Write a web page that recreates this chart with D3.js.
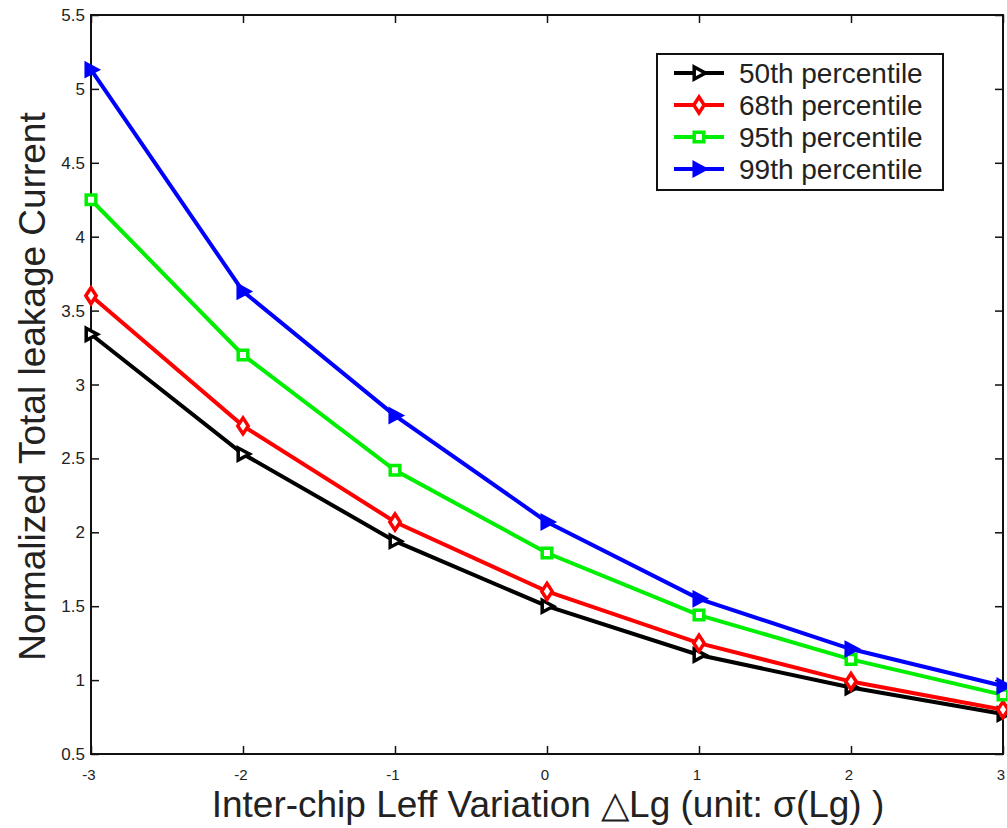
<!DOCTYPE html>
<html>
<head>
<meta charset="utf-8">
<script src="https://cdn.jsdelivr.net/npm/d3@7"></script>
<style>
  body { margin: 0; background: #fff; }
  text { font-family: "Liberation Sans", Arial, sans-serif; fill: #222; }
</style>
</head>
<body>
<svg id="chart" width="1007" height="828"></svg>
<script>
// data
var xVals = [-3, -2, -1, 0, 1, 2, 3];
var p50 = [3.34, 2.53, 1.94, 1.50, 1.17, 0.95, 0.77];
var p68 = [3.60, 2.72, 2.07, 1.60, 1.25, 0.99, 0.80];
var p95 = [4.25, 3.20, 2.42, 1.86, 1.44, 1.14, 0.90];
var p99 = [5.13, 3.63, 2.79, 2.07, 1.55, 1.21, 0.96];
var yTicks = [0.5, 1, 1.5, 2, 2.5, 3, 3.5, 4, 4.5, 5, 5.5];
var xTicks = [-3, -2, -1, 0, 1, 2, 3];

var series = [
  { name: "50th percentile", values: p50, color: "#000000", marker: "tri" },
  { name: "68th percentile", values: p68, color: "#ff0000", marker: "diamond" },
  { name: "95th percentile", values: p95, color: "#00ee00", marker: "square" },
  { name: "99th percentile", values: p99, color: "#0000ff", marker: "tri" }
];

var svg = d3.select("#chart"),
  margin = { top: 15, left: 91, bottom: 74, right: 4 },
  width = +svg.attr("width"),
  height = +svg.attr("height");

var x = d3.scaleLinear().domain([-3, 3]).range([margin.left, width - margin.right]);
var y = d3.scaleLinear().domain([0.5, 5.5]).range([height - margin.bottom, margin.top]);

// ticks inside
svg.append("g")
  .attr("transform", `translate(${margin.left},0)`)
  .call(d3.axisRight(y).tickValues(yTicks).tickSize(8).tickFormat(""))
  .call((g) => g.select(".domain").remove())
  .selectAll("line").attr("stroke", "#111").attr("stroke-width", 1.5);

svg.append("g")
  .attr("transform", `translate(${width - margin.right},0)`)
  .call(d3.axisLeft(y).tickValues(yTicks).tickSize(8).tickFormat(""))
  .call((g) => g.select(".domain").remove())
  .selectAll("line").attr("stroke", "#111").attr("stroke-width", 1.5);

svg.append("g")
  .attr("transform", `translate(0,${height - margin.bottom})`)
  .call(d3.axisTop(x).tickValues(xTicks).tickSize(8).tickFormat(""))
  .call((g) => g.select(".domain").remove())
  .selectAll("line").attr("stroke", "#111").attr("stroke-width", 1.5);

svg.append("g")
  .attr("transform", `translate(0,${margin.top})`)
  .call(d3.axisBottom(x).tickValues(xTicks).tickSize(8).tickFormat(""))
  .call((g) => g.select(".domain").remove())
  .selectAll("line").attr("stroke", "#111").attr("stroke-width", 1.5);

// box
svg.append("rect")
  .attr("x", x(-3)).attr("y", y(5.5))
  .attr("width", x(3) - x(-3)).attr("height", y(0.5) - y(5.5))
  .attr("fill", "none").attr("stroke", "#111").attr("stroke-width", 2);

// tick labels
svg.append("g").selectAll("text").data(yTicks).join("text")
  .attr("x", margin.left - 6)
  .attr("y", (d) => y(d) + 6)
  .attr("text-anchor", "end")
  .style("font-size", "17px")
  .text((d) => d);

svg.append("g").selectAll("text").data(xTicks).join("text")
  .attr("x", (d) => x(d) - 2)
  .attr("y", height - margin.bottom + 26)
  .attr("text-anchor", "middle")
  .style("font-size", "15px")
  .text((d) => d);

// axis titles
svg.append("text")
  .attr("transform", `translate(45,${(y(0.5) + y(5.5)) / 2 + 2}) rotate(-90)`)
  .attr("text-anchor", "middle")
  .style("font-size", "37px")
  .text("Normalized Total leakage Current");

svg.append("text")
  .attr("x", 548)
  .attr("y", 817)
  .attr("text-anchor", "middle")
  .style("font-size", "37px")
  .text("Inter-chip Leff Variation \u25B3Lg (unit: \u03C3(Lg) )");

// markers
function markerPath(type, s) {
  if (type === "tri") return `M${-s * 0.6},${-s * 0.75}L${s * 0.8},0L${-s * 0.6},${s * 0.75}Z`;
  if (type === "diamond") return `M0,${-s}L${s * 0.65},0L0,${s}L${-s * 0.65},0Z`;
  return `M${-s * 0.6},${-s * 0.6}H${s * 0.6}V${s * 0.6}H${-s * 0.6}Z`;
}

var line = d3.line().x((d, i) => x(xVals[i])).y((d) => y(d));

var g = svg.append("g");
series.forEach(function (s) {
  g.append("path")
    .attr("d", line(s.values))
    .attr("fill", "none")
    .attr("stroke", s.color)
    .attr("stroke-width", 4);
  g.selectAll(null).data(s.values).join("path")
    .attr("transform", (d, i) => `translate(${x(xVals[i])},${y(d)})`)
    .attr("d", markerPath(s.marker, 8))
    .attr("fill", s.color === "#0000ff" ? s.color : "#fff")
    .attr("stroke", s.color)
    .attr("stroke-width", 3.5);
});

// legend
var lg = svg.append("g");
lg.append("rect")
  .attr("x", 657).attr("y", 54).attr("width", 286).attr("height", 136)
  .attr("fill", "#fff").attr("stroke", "#111").attr("stroke-width", 2);

series.forEach(function (s, i) {
  var ly = 73 + i * 32;
  lg.append("line")
    .attr("x1", 674).attr("x2", 724).attr("y1", ly).attr("y2", ly)
    .attr("stroke", s.color).attr("stroke-width", 4);
  lg.append("path")
    .attr("transform", `translate(699,${ly})`)
    .attr("d", markerPath(s.marker, 8))
    .attr("fill", s.color === "#0000ff" ? s.color : "#fff")
    .attr("stroke", s.color).attr("stroke-width", 3.5);
  lg.append("text")
    .attr("x", 739).attr("y", ly + 10)
    .style("font-size", "28px")
    .text(s.name);
});
</script>
</body>
</html>
